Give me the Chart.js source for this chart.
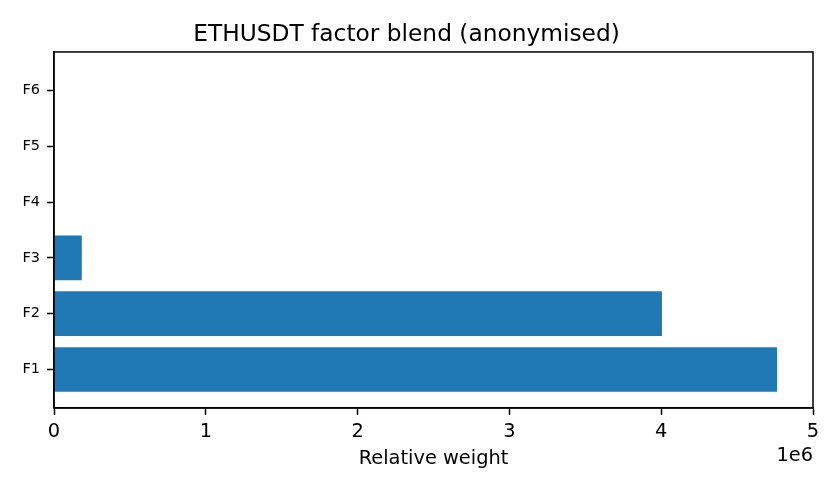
<!DOCTYPE html>
<html>
<head>
<meta charset="utf-8">
<script src="https://cdn.jsdelivr.net/npm/chart.js@4/dist/chart.umd.min.js"></script>
<style>
  body { margin: 0; background: #fff; }
  canvas { display: block; }
</style>
</head>
<body>
<canvas id="chart" width="840" height="490"></canvas>
<script>
// ====== DATA ======
const categories = ['F1', 'F2', 'F3', 'F4', 'F5', 'F6'];
const weights = [4763000, 4005000, 183000, 0, 0, 0];
const xTickValues = [0, 1, 2, 3, 4, 5];
const xScaleFactor = 1e6;

const FONT = "'DejaVu Sans', sans-serif";
const BAR_COLOR = '#1f77b4';

// frame round the plot area + the "1e6" offset text, matplotlib style
const framePlugin = {
    id: 'frame',
    afterDraw(chart) {
        const { ctx, chartArea } = chart;
        ctx.save();
        ctx.strokeStyle = '#000';
        ctx.lineWidth = 1.5;
        ctx.strokeRect(chartArea.left, chartArea.top,
            chartArea.right - chartArea.left, chartArea.bottom - chartArea.top);
        ctx.fillStyle = '#000';
        ctx.font = "19.4px " + FONT;
        ctx.textAlign = 'right';
        ctx.textBaseline = 'middle';
        ctx.fillText('1e' + Math.log10(xScaleFactor), chartArea.right, 456);
        ctx.restore();
    }
};

const ctx = document.getElementById('chart').getContext('2d');
new Chart(ctx, {
    type: 'bar',
    data: {
        datasets: [{
            data: weights.map((w, i) => ({ x: w, y: i })),
            backgroundColor: BAR_COLOR,
            borderWidth: 0,
            barPercentage: 0.8,
            categoryPercentage: 1.0
        }]
    },
    options: {
        indexAxis: 'y',
        responsive: false,
        animation: false,
        devicePixelRatio: 1,
        layout: { padding: { left: 0, right: 27, top: 0, bottom: 0 } },
        plugins: {
            legend: { display: false },
            tooltip: { enabled: false },
            title: {
                display: true,
                text: 'ETHUSDT factor blend (anonymised)',
                color: '#000',
                font: { family: FONT, size: 23.3, weight: 'normal' },
                padding: { top: 21, bottom: 3 }
            }
        },
        scales: {
            x: {
                type: 'linear',
                min: 0,
                max: 5 * xScaleFactor,
                afterFit: (scale) => { scale.height = 82; },
                afterBuildTicks: (scale) => {
                    scale.ticks = xTickValues.map(v => ({ value: v * xScaleFactor }));
                },
                ticks: {
                    color: '#000',
                    font: { family: FONT, size: 19.4 },
                    padding: 5,
                    maxRotation: 0,
                    callback: (v) => String(v / xScaleFactor)
                },
                grid: {
                    drawOnChartArea: false,
                    tickLength: 7,
                    tickColor: '#000',
                    tickWidth: 1.5
                },
                border: { display: true, color: '#000', width: 1.5 },
                title: {
                    display: true,
                    text: 'Relative weight',
                    color: '#000',
                    font: { family: FONT, size: 19.4 },
                    padding: { top: 0, bottom: 19 }
                }
            },
            y: {
                type: 'linear',
                min: -0.69,
                max: 5.69,
                offset: false,
                afterFit: (scale) => { scale.width = 54; },
                afterBuildTicks: (scale) => {
                    scale.ticks = categories.map((c, i) => ({ value: i }));
                },
                ticks: {
                    color: '#000',
                    font: { family: FONT, size: 14.5 },
                    padding: 7,
                    callback: (v) => categories[v]
                },
                grid: {
                    offset: false,
                    drawOnChartArea: false,
                    tickLength: 7,
                    tickColor: '#000',
                    tickWidth: 1.5
                },
                border: { display: true, color: '#000', width: 1.5 }
            }
        }
    },
    plugins: [framePlugin]
});
</script>
</body>
</html>
